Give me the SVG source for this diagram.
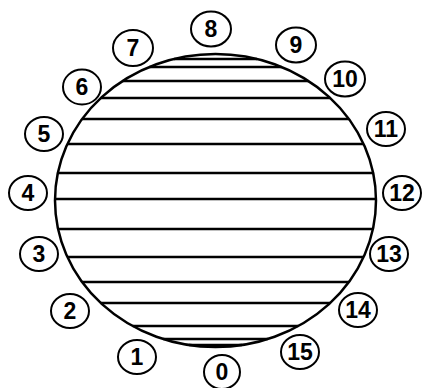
<svg xmlns="http://www.w3.org/2000/svg" width="422" height="388" viewBox="0 0 422 388">
<style>
.big{fill:none;stroke:#000;stroke-width:2.5}
.hl{stroke:#000;stroke-width:2.5}
.lc{fill:#fff;stroke:#000;stroke-width:2}
.lt{font-family:"Liberation Sans",Arial,sans-serif;font-weight:bold;font-size:23px;text-anchor:middle;fill:#000}
</style>
<rect width="422" height="388" fill="#fff"/>
<g id="disk">
<g id="lines">
<line class="hl" x1="173.9" y1="59" x2="257.1" y2="59"/>
<line class="hl" x1="149.4" y1="67" x2="281.6" y2="67"/>
<line class="hl" x1="122.7" y1="81" x2="308.3" y2="81"/>
<line class="hl" x1="100.8" y1="98" x2="330.2" y2="98"/>
<line class="hl" x1="82.1" y1="119" x2="348.9" y2="119"/>
<line class="hl" x1="67.4" y1="144" x2="363.6" y2="144"/>
<line class="hl" x1="57.9" y1="173" x2="373.1" y2="173"/>
<line class="hl" x1="55" y1="199" x2="376" y2="199"/>
<line class="hl" x1="58.1" y1="229" x2="372.9" y2="229"/>
<line class="hl" x1="67.4" y1="257" x2="363.6" y2="257"/>
<line class="hl" x1="82.1" y1="282" x2="348.9" y2="282"/>
<line class="hl" x1="100.8" y1="303" x2="330.2" y2="303"/>
<line class="hl" x1="132.7" y1="326" x2="298.3" y2="326"/>
<line class="hl" x1="163.2" y1="339" x2="267.8" y2="339"/>
<line class="hl" x1="189.1" y1="345" x2="241.9" y2="345"/>
</g>
<ellipse class="big" cx="215.5" cy="200.5" rx="160.5" ry="146.5"/>
</g>
<g id="n0"><ellipse class="lc" cx="222" cy="372" rx="18" ry="17"/><text class="lt" x="222" y="380">0</text></g>
<g id="n1"><ellipse class="lc" cx="137" cy="357" rx="19" ry="17"/><text class="lt" x="137" y="365">1</text></g>
<g id="n2"><ellipse class="lc" cx="70" cy="311" rx="19" ry="17"/><text class="lt" x="70" y="319">2</text></g>
<g id="n3"><ellipse class="lc" cx="39" cy="254" rx="19" ry="17"/><text class="lt" x="39" y="262">3</text></g>
<g id="n4"><ellipse class="lc" cx="28" cy="193" rx="19" ry="17"/><text class="lt" x="28" y="201">4</text></g>
<g id="n5"><ellipse class="lc" cx="44" cy="134" rx="19" ry="17"/><text class="lt" x="44" y="142">5</text></g>
<g id="n6"><ellipse class="lc" cx="82" cy="87" rx="19" ry="17.5"/><text class="lt" x="82" y="95">6</text></g>
<g id="n7"><ellipse class="lc" cx="133" cy="48" rx="20" ry="18"/><text class="lt" x="133" y="56">7</text></g>
<g id="n8"><ellipse class="lc" cx="211" cy="29" rx="20" ry="17.5"/><text class="lt" x="211" y="37">8</text></g>
<g id="n9"><ellipse class="lc" cx="296" cy="45" rx="20" ry="17.5"/><text class="lt" x="296" y="53">9</text></g>
<g id="n10"><ellipse class="lc" cx="345" cy="79" rx="20" ry="17.5"/><text class="lt" x="345" y="87">10</text></g>
<g id="n11"><ellipse class="lc" cx="386" cy="129" rx="19" ry="17"/><text class="lt" x="386" y="137">11</text></g>
<g id="n12"><ellipse class="lc" cx="402" cy="193" rx="19" ry="17"/><text class="lt" x="402" y="201">12</text></g>
<g id="n13"><ellipse class="lc" cx="389" cy="254" rx="19" ry="17"/><text class="lt" x="389" y="262">13</text></g>
<g id="n14"><ellipse class="lc" cx="358" cy="310" rx="19" ry="17"/><text class="lt" x="358" y="318">14</text></g>
<g id="n15"><ellipse class="lc" cx="300" cy="352" rx="19" ry="17"/><text class="lt" x="300" y="360">15</text></g>
</svg>
